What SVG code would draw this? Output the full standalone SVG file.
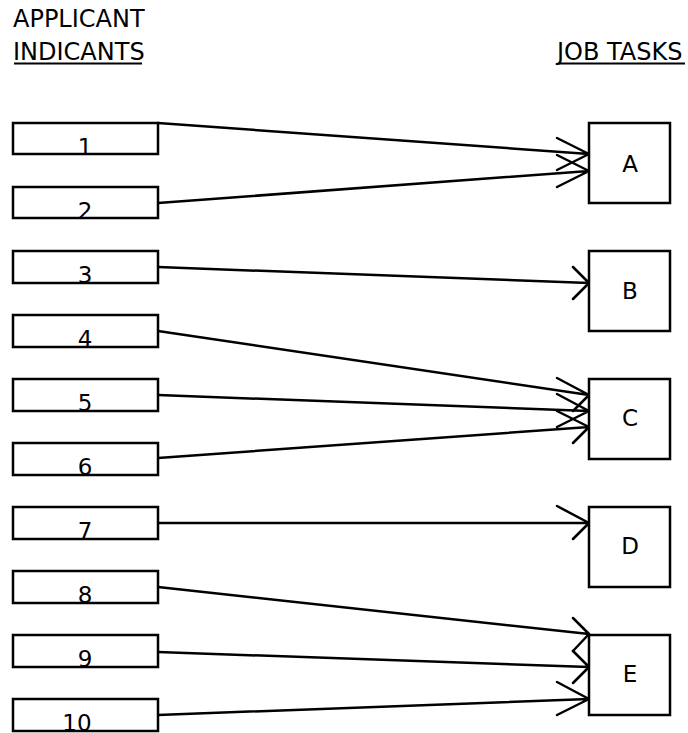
<svg xmlns="http://www.w3.org/2000/svg" width="688" height="733" viewBox="0 0 688 733">
<style>
.box{fill:#fff;stroke:#000;stroke-width:2.5}
.ln{stroke:#000;stroke-width:2.5;fill:none;stroke-linecap:round;stroke-linejoin:round}
.hd{font-family:"DejaVu Sans",sans-serif;font-size:24px;fill:#000}
.num{font-family:"DejaVu Sans",sans-serif;font-size:23px;fill:#000;text-anchor:middle}
.let{font-family:"DejaVu Sans",sans-serif;font-size:23px;fill:#000;text-anchor:middle}
</style>
<rect width="688" height="733" fill="#fff"/>
<g id="headers">
<text class="hd" x="13" y="27">APPLICANT</text>
<text class="hd" x="13" y="60">INDICANTS</text>
<line x1="14" y1="63.5" x2="142" y2="63.5" stroke="#000" stroke-width="2"/>
<text class="hd" x="557" y="60">JOB TASKS</text>
<line x1="558" y1="63.5" x2="685" y2="63.5" stroke="#000" stroke-width="2"/>
</g>
<g id="connectors">
<path class="ln" d="M158,123 L589,154 M557,138 L589,154 L557,170"/>
<path class="ln" d="M158,203 L589,171 M557,155 L589,171 L557,187"/>
<path class="ln" d="M158,267 L589,283 M573,267 L589,283 L573,299"/>
<path class="ln" d="M158,331 L589,395 M557,378 L589,395 L573,411"/>
<path class="ln" d="M158,395 L589,411 M557,394 L589,411 L557,427"/>
<path class="ln" d="M158,458 L589,427 M557,411 L589,427 L573,443"/>
<path class="ln" d="M158,523 L589,523 M557,506 L589,523 L573,539"/>
<path class="ln" d="M158,587 L589,634 M573,618 L589,634 L573,651"/>
<path class="ln" d="M158,652 L589,667 M573,651 L589,667 L573,683"/>
<path class="ln" d="M158,715 L589,699 M557,682 L589,699 L557,715"/>
</g>
<g id="i1"><rect class="box" x="13" y="123" width="145" height="31"/><text class="num" x="85" y="155">1</text></g>
<g id="i2"><rect class="box" x="13" y="187" width="145" height="31"/><text class="num" x="85" y="219">2</text></g>
<g id="i3"><rect class="box" x="13" y="251" width="145" height="32"/><text class="num" x="85" y="283">3</text></g>
<g id="i4"><rect class="box" x="13" y="315" width="145" height="32"/><text class="num" x="85" y="347">4</text></g>
<g id="i5"><rect class="box" x="13" y="379" width="145" height="32"/><text class="num" x="85" y="411">5</text></g>
<g id="i6"><rect class="box" x="13" y="443" width="145" height="32"/><text class="num" x="85" y="475">6</text></g>
<g id="i7"><rect class="box" x="13" y="507" width="145" height="32"/><text class="num" x="85" y="539">7</text></g>
<g id="i8"><rect class="box" x="13" y="571" width="145" height="32"/><text class="num" x="85" y="603">8</text></g>
<g id="i9"><rect class="box" x="13" y="635" width="145" height="32"/><text class="num" x="85" y="667">9</text></g>
<g id="i10"><rect class="box" x="13" y="699" width="145" height="32"/><text class="num" x="77" y="731">10</text></g>
<g id="tA"><rect class="box" x="589" y="123" width="81" height="80"/><text class="let" x="630" y="172">A</text></g>
<g id="tB"><rect class="box" x="589" y="251" width="81" height="80"/><text class="let" x="630" y="299">B</text></g>
<g id="tC"><rect class="box" x="589" y="379" width="81" height="80"/><text class="let" x="630" y="426">C</text></g>
<g id="tD"><rect class="box" x="589" y="507" width="81" height="80"/><text class="let" x="630" y="554">D</text></g>
<g id="tE"><rect class="box" x="589" y="635" width="81" height="80"/><text class="let" x="630" y="682">E</text></g>
</svg>
